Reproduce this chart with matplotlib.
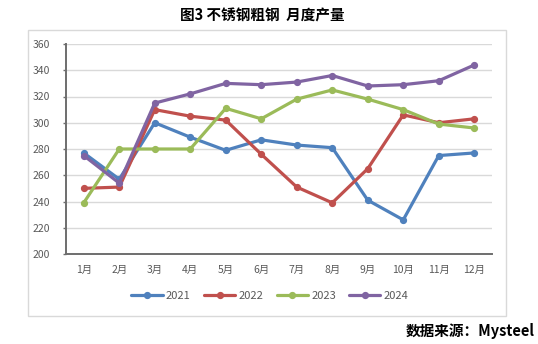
import matplotlib
matplotlib.use("Agg")
import matplotlib.pyplot as plt
from matplotlib.patches import Rectangle

plt.rcParams['font.family'] = ['Noto Sans CJK SC', 'DejaVu Sans']

months = ['1月', '2月', '3月', '4月', '5月', '6月', '7月', '8月', '9月', '10月', '11月', '12月']
s2021 = [277, 257, 300, 289, 279, 287, 283, 281, 241, 226, 275, 277]
s2022 = [250, 251, 310, 305, 302, 276, 251, 239, 265, 306, 300, 303]
s2023 = [239, 280, 280, 280, 311, 303, 318, 325, 318, 310, 299, 296]
s2024 = [275, 254, 315, 322, 330, 329, 331, 336, 328, 329, 332, 344]
series = [('2021', s2021, '#4F81BD'), ('2022', s2022, '#C0504D'),
          ('2023', s2023, '#9BBB59'), ('2024', s2024, '#8064A2')]
yticks = [200, 220, 240, 260, 280, 300, 320, 340, 360]

W, H = 538, 344
fig = plt.figure(figsize=(W / 100, H / 100), dpi=100)
fig.patch.set_facecolor('white')

# outer chart frame
fig.patches.append(Rectangle((28 / W, 1 - 316 / H), (506 - 28) / W, (316 - 30) / H,
                             transform=fig.transFigure, fill=False,
                             edgecolor='#D9D9D9', linewidth=1.0))

ax = fig.add_axes([66 / W, 1 - 254 / H, (492 - 66) / W, (254 - 44) / H])
x = list(range(len(months)))
for name, vals, c in series:
    ax.plot(x, vals, color=c, linewidth=2.3, marker='o', markersize=4.2,
            label=name, solid_capstyle='round', solid_joinstyle='round')

ax.set_xlim(-0.5, 11.5)
ax.set_ylim(200, 360)
ax.set_yticks(yticks)
ax.set_xticks(x)
ax.set_xticklabels(months)
ax.yaxis.grid(True, color='#D9D9D9', linewidth=1.0)
ax.set_axisbelow(True)
for sp in ['top', 'right']:
    ax.spines[sp].set_visible(False)
ax.spines['left'].set_color('#6E6E6E')
ax.spines['left'].set_linewidth(1.4)
ax.spines['bottom'].set_color('#6E6E6E')
ax.spines['bottom'].set_linewidth(1.4)
ax.tick_params(axis='y', length=2.5, width=1, color='#6E6E6E', labelsize=7.5,
               labelcolor='#595959', pad=9)
ax.tick_params(axis='x', length=0, labelsize=7.5, labelcolor='#595959', pad=8)

leg = fig.legend(loc='center', bbox_to_anchor=(270 / W, 1 - 296 / H), ncol=4,
                 frameon=False, fontsize=8, handlelength=2.8, columnspacing=1.2,
                 handletextpad=0.3)
for t in leg.get_texts():
    t.set_color('#595959')

fig.text(262 / W, 1 - 15 / H, '图3 不锈钢粗钢  月度产量', ha='center', va='center',
         fontsize=10.5, fontweight='bold', color='black')
fig.text(535 / W, 1 - 331 / H, '数据来源：Mysteel', ha='right', va='center',
         fontsize=10.5, fontweight='bold', color='black')

fig.savefig('out.png', dpi=100)
